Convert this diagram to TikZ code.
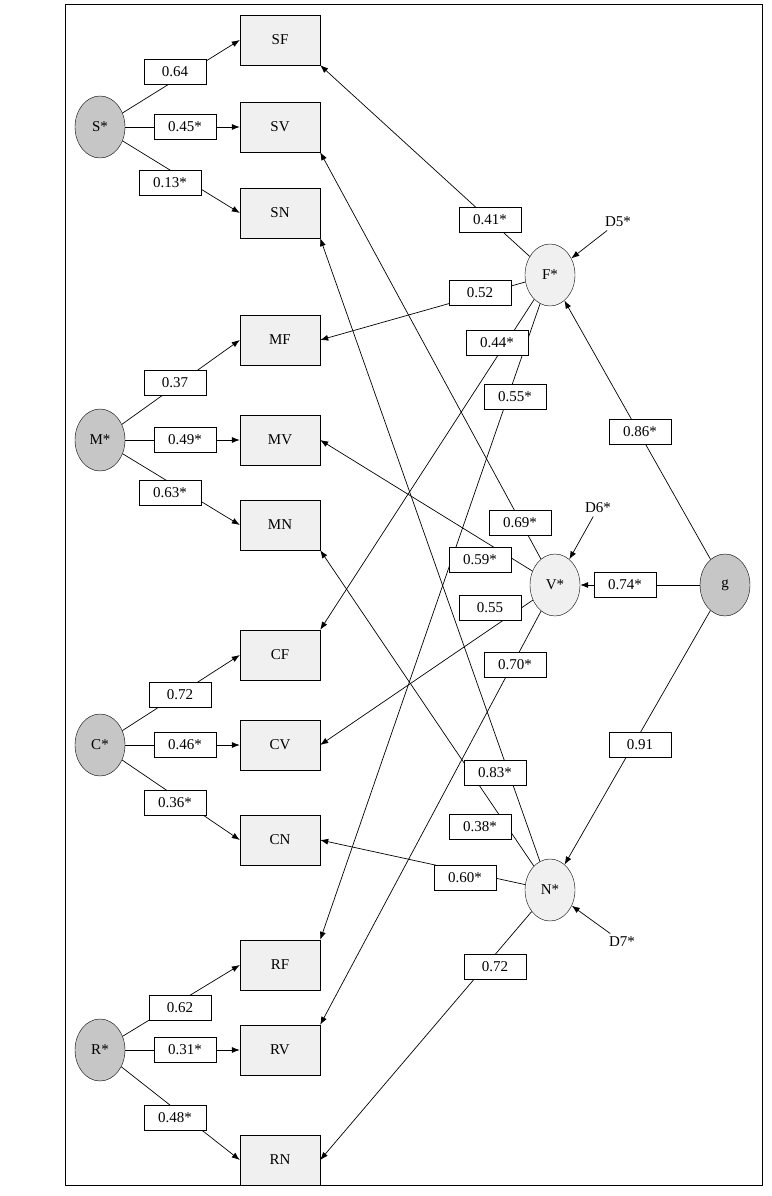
\documentclass[tikz,border=0pt]{standalone}
\usepackage{fontspec}
\setmainfont{Liberation Serif}
\usetikzlibrary{arrows.meta,shapes.geometric}
\tikzset{
  ind/.style={draw, fill=gray!12, minimum width=80pt, minimum height=50pt, font=\fontsize{15}{16}\selectfont},
  lat/.style={draw, ellipse, fill=gray!45, minimum width=50pt, minimum height=62pt, inner sep=0pt, font=\fontsize{15}{16}\selectfont},
  fac/.style={lat, fill=gray!12},
  coef/.style={draw, fill=white, minimum width=62pt, minimum height=25pt, inner sep=1pt, font=\fontsize{15}{16}\selectfont},
  err/.style={font=\fontsize{15}{16}\selectfont},
  arr/.style={draw, -{Latex[length=8pt,width=6pt]}, line width=0.7pt}
}
\begin{document}
\begin{tikzpicture}[x=1pt,y=-1pt]
  \useasboundingbox (0,0) rectangle (771,1196);
  \draw[line width=1pt] (65,5) rectangle (762,1185);
  % indicators
  \node[ind] (SF) at (280,40) {SF};
  \node[ind] (SV) at (280,127) {SV};
  \node[ind] (SN) at (280,213) {SN};
  \node[ind] (MF) at (280,340) {MF};
  \node[ind] (MV) at (280,440) {MV};
  \node[ind] (MN) at (280,525) {MN};
  \node[ind] (CF) at (280,655) {CF};
  \node[ind] (CV) at (280,745) {CV};
  \node[ind] (CN) at (280,840) {CN};
  \node[ind] (RF) at (280,965) {RF};
  \node[ind] (RV) at (280,1050) {RV};
  \node[ind] (RN) at (280,1160) {RN};
  % first order latents
  \node[lat] (S) at (100,127) {S*};
  \node[lat] (M) at (100,440) {M*};
  \node[lat] (C) at (100,745) {C*};
  \node[lat] (R) at (100,1050) {R*};
  % second order latents
  \node[fac] (F) at (550,275) {F*};
  \node[fac] (V) at (555,585) {V*};
  \node[fac] (N) at (550,890) {N*};
  \node[lat] (g) at (725,585) {g};
  % disturbances
  \node[err] (D5) at (618,222) {D5*};
  \node[err] (D6) at (598,508) {D6*};
  \node[err] (D7) at (622,942) {D7*};
  \draw[arr] (D5) -- (F);
  \draw[arr] (D6) -- (V);
  \draw[arr] (D7) -- (N);

  % left paths
  \foreach \l/\a/\b/\c in {S/SF/SV/SN, M/MF/MV/MN, C/CF/CV/CN, R/RF/RV/RN} {
    \draw[arr] (\l) -- (\a.west);
    \draw[arr] (\l) -- (\b.west);
    \draw[arr] (\l) -- (\c.west);
  }
  % F paths
  \draw[arr] (F) -- (SF.south east);
  \draw[arr] (F) -- (MF.east);
  \draw[arr] (F) -- (CF.north east);
  \draw[arr] (F) -- (RF.north east);
  % V paths
  \draw[arr] (V) -- (SV.south east);
  \draw[arr] (V) -- (MV.east);
  \draw[arr] (V) -- (CV.east);
  \draw[arr] (V) -- (RV.north east);
  % N paths
  \draw[arr] (N) -- (SN.south east);
  \draw[arr] (N) -- (MN.south east);
  \draw[arr] (N) -- (CN.east);
  \draw[arr] (N) -- (RN.east);
  % g paths
  \draw[arr] (g) -- (F);
  \draw[arr] (g) -- (V);
  \draw[arr] (g) -- (N);

  % coefficients
  \node[coef] at (175,72) {0.64};
  \node[coef] at (185,127) {0.45*};
  \node[coef] at (170,183) {0.13*};
  \node[coef] at (175,383) {0.37};
  \node[coef] at (185,440) {0.49*};
  \node[coef] at (170,493) {0.63*};
  \node[coef] at (180,695) {0.72};
  \node[coef] at (185,745) {0.46*};
  \node[coef] at (175,803) {0.36*};
  \node[coef] at (180,1008) {0.62};
  \node[coef] at (185,1050) {0.31*};
  \node[coef] at (175,1118) {0.48*};
  \node[coef] at (490,220) {0.41*};
  \node[coef] at (480,293) {0.52};
  \node[coef] at (497,343) {0.44*};
  \node[coef] at (515,397) {0.55*};
  \node[coef] at (640,432) {0.86*};
  \node[coef] at (520,523) {0.69*};
  \node[coef] at (480,560) {0.59*};
  \node[coef] at (490,608) {0.55};
  \node[coef] at (515,665) {0.70*};
  \node[coef] at (625,585) {0.74*};
  \node[coef] at (640,745) {0.91};
  \node[coef] at (495,773) {0.83*};
  \node[coef] at (480,827) {0.38*};
  \node[coef] at (465,878) {0.60*};
  \node[coef] at (495,967) {0.72};
\end{tikzpicture}
\end{document}
